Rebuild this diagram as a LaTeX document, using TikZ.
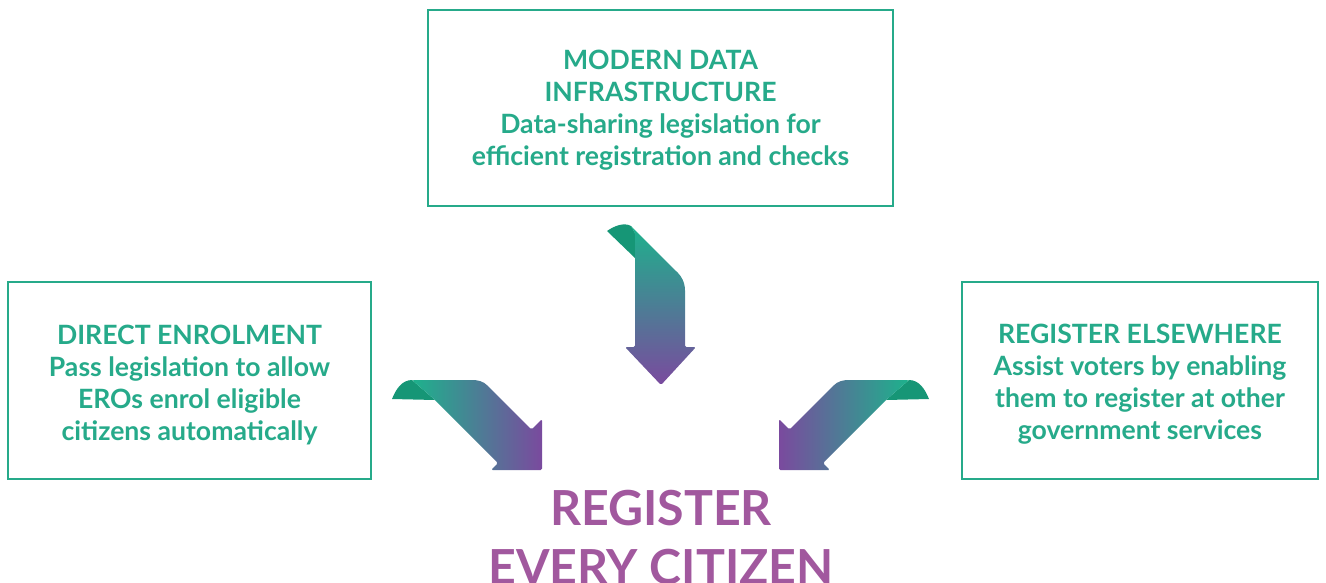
\documentclass[tikz,border=0pt]{standalone}
\usepackage{fontspec}
\setmainfont{Lato}
\definecolor{teal}{RGB}{38,170,138}
\definecolor{plum}{RGB}{161,88,158}
\definecolor{ribbongreen}{RGB}{29,178,140}
\definecolor{ribbonflap}{RGB}{22,150,118}
\definecolor{ribbonpurple}{RGB}{122,74,158}
\tikzset{
  infobox/.style={draw=teal, line width=2.5pt, fill=white, inner sep=0pt},
  boxtext/.style={align=center, text=teal,
    font=\fontsize{26.6}{32}\selectfont\bfseries, inner sep=0pt},
  headline/.style={text=plum, font=\fontsize{48.3}{59}\selectfont\bfseries, inner sep=0pt},
  flap/.style={fill=ribbonflap},
}
\begin{document}
\begin{tikzpicture}[x=1pt,y=-1pt]
\useasboundingbox (0,0) rectangle (1326,582);

% three measure boxes
\node[infobox, minimum width=465pt, minimum height=196pt] (infra) at (660.5,108) {};
\node[infobox, minimum width=363pt, minimum height=197pt] (direct) at (189.5,380.5) {};
\node[infobox, minimum width=356pt, minimum height=197pt] (elsewhere) at (1140,380.5) {};

\node[boxtext] (infra-text) at ([yshift=-2pt]infra.center)
  {MODERN DATA\\INFRASTRUCTURE\\Data-sharing legislation for\\efficient registration and checks};
\node[boxtext] (direct-text) at ([yshift=-4pt]direct.center)
  {DIRECT ENROLMENT\\Pass legislation to allow\\EROs enrol eligible\\citizens automatically};
\node[boxtext] (elsewhere-text) at ([yshift=-4pt]elsewhere.center)
  {REGISTER ELSEWHERE\\Assist voters by enabling\\them to register at other\\government services};

% goal
\node[headline, anchor=base] (goal1) at (661,525) {REGISTER};
\node[headline, anchor=base] (goal2) at (661,584) {EVERY CITIZEN};

% top ribbon arrow
\fill[flap] (607,231) .. controls (614,226) and (624,222) .. (631,226) -- (635,233) -- (635,258) -- cycle;
\shade[top color=ribbongreen, bottom color=ribbonpurple, rounded corners=1.5pt]
  (630,225) -- (677,272) .. controls (681,276) and (685,282) .. (685,292)
  -- (685,347) -- (696,347) -- (661,385) -- (625,347) -- (635,347) -- (635,233) -- cycle;

% left ribbon arrow
\fill[flap] (392,399) .. controls (396,389) and (402,380) .. (412,380) -- (435,400) -- cycle;
\shade[left color=ribbongreen, right color=ribbonpurple, rounded corners=1.5pt]
  (412,380) -- (470,380) .. controls (478,380) and (483,381) .. (489,387)
  -- (531.5,429.5) -- (542,419) -- (542,470) -- (491,470) -- (498,463) -- (435,400) -- cycle;

% right ribbon arrow
\fill[flap] (929,399) .. controls (925,389) and (919,380) .. (909,380) -- (886,400) -- cycle;
\shade[left color=ribbonpurple, right color=ribbongreen, rounded corners=1.5pt]
  (909,380) -- (851,380) .. controls (843,380) and (838,381) .. (832,387)
  -- (789.5,429.5) -- (779,419) -- (779,470) -- (830,470) -- (823,463) -- (886,400) -- cycle;
\end{tikzpicture}
\end{document}
